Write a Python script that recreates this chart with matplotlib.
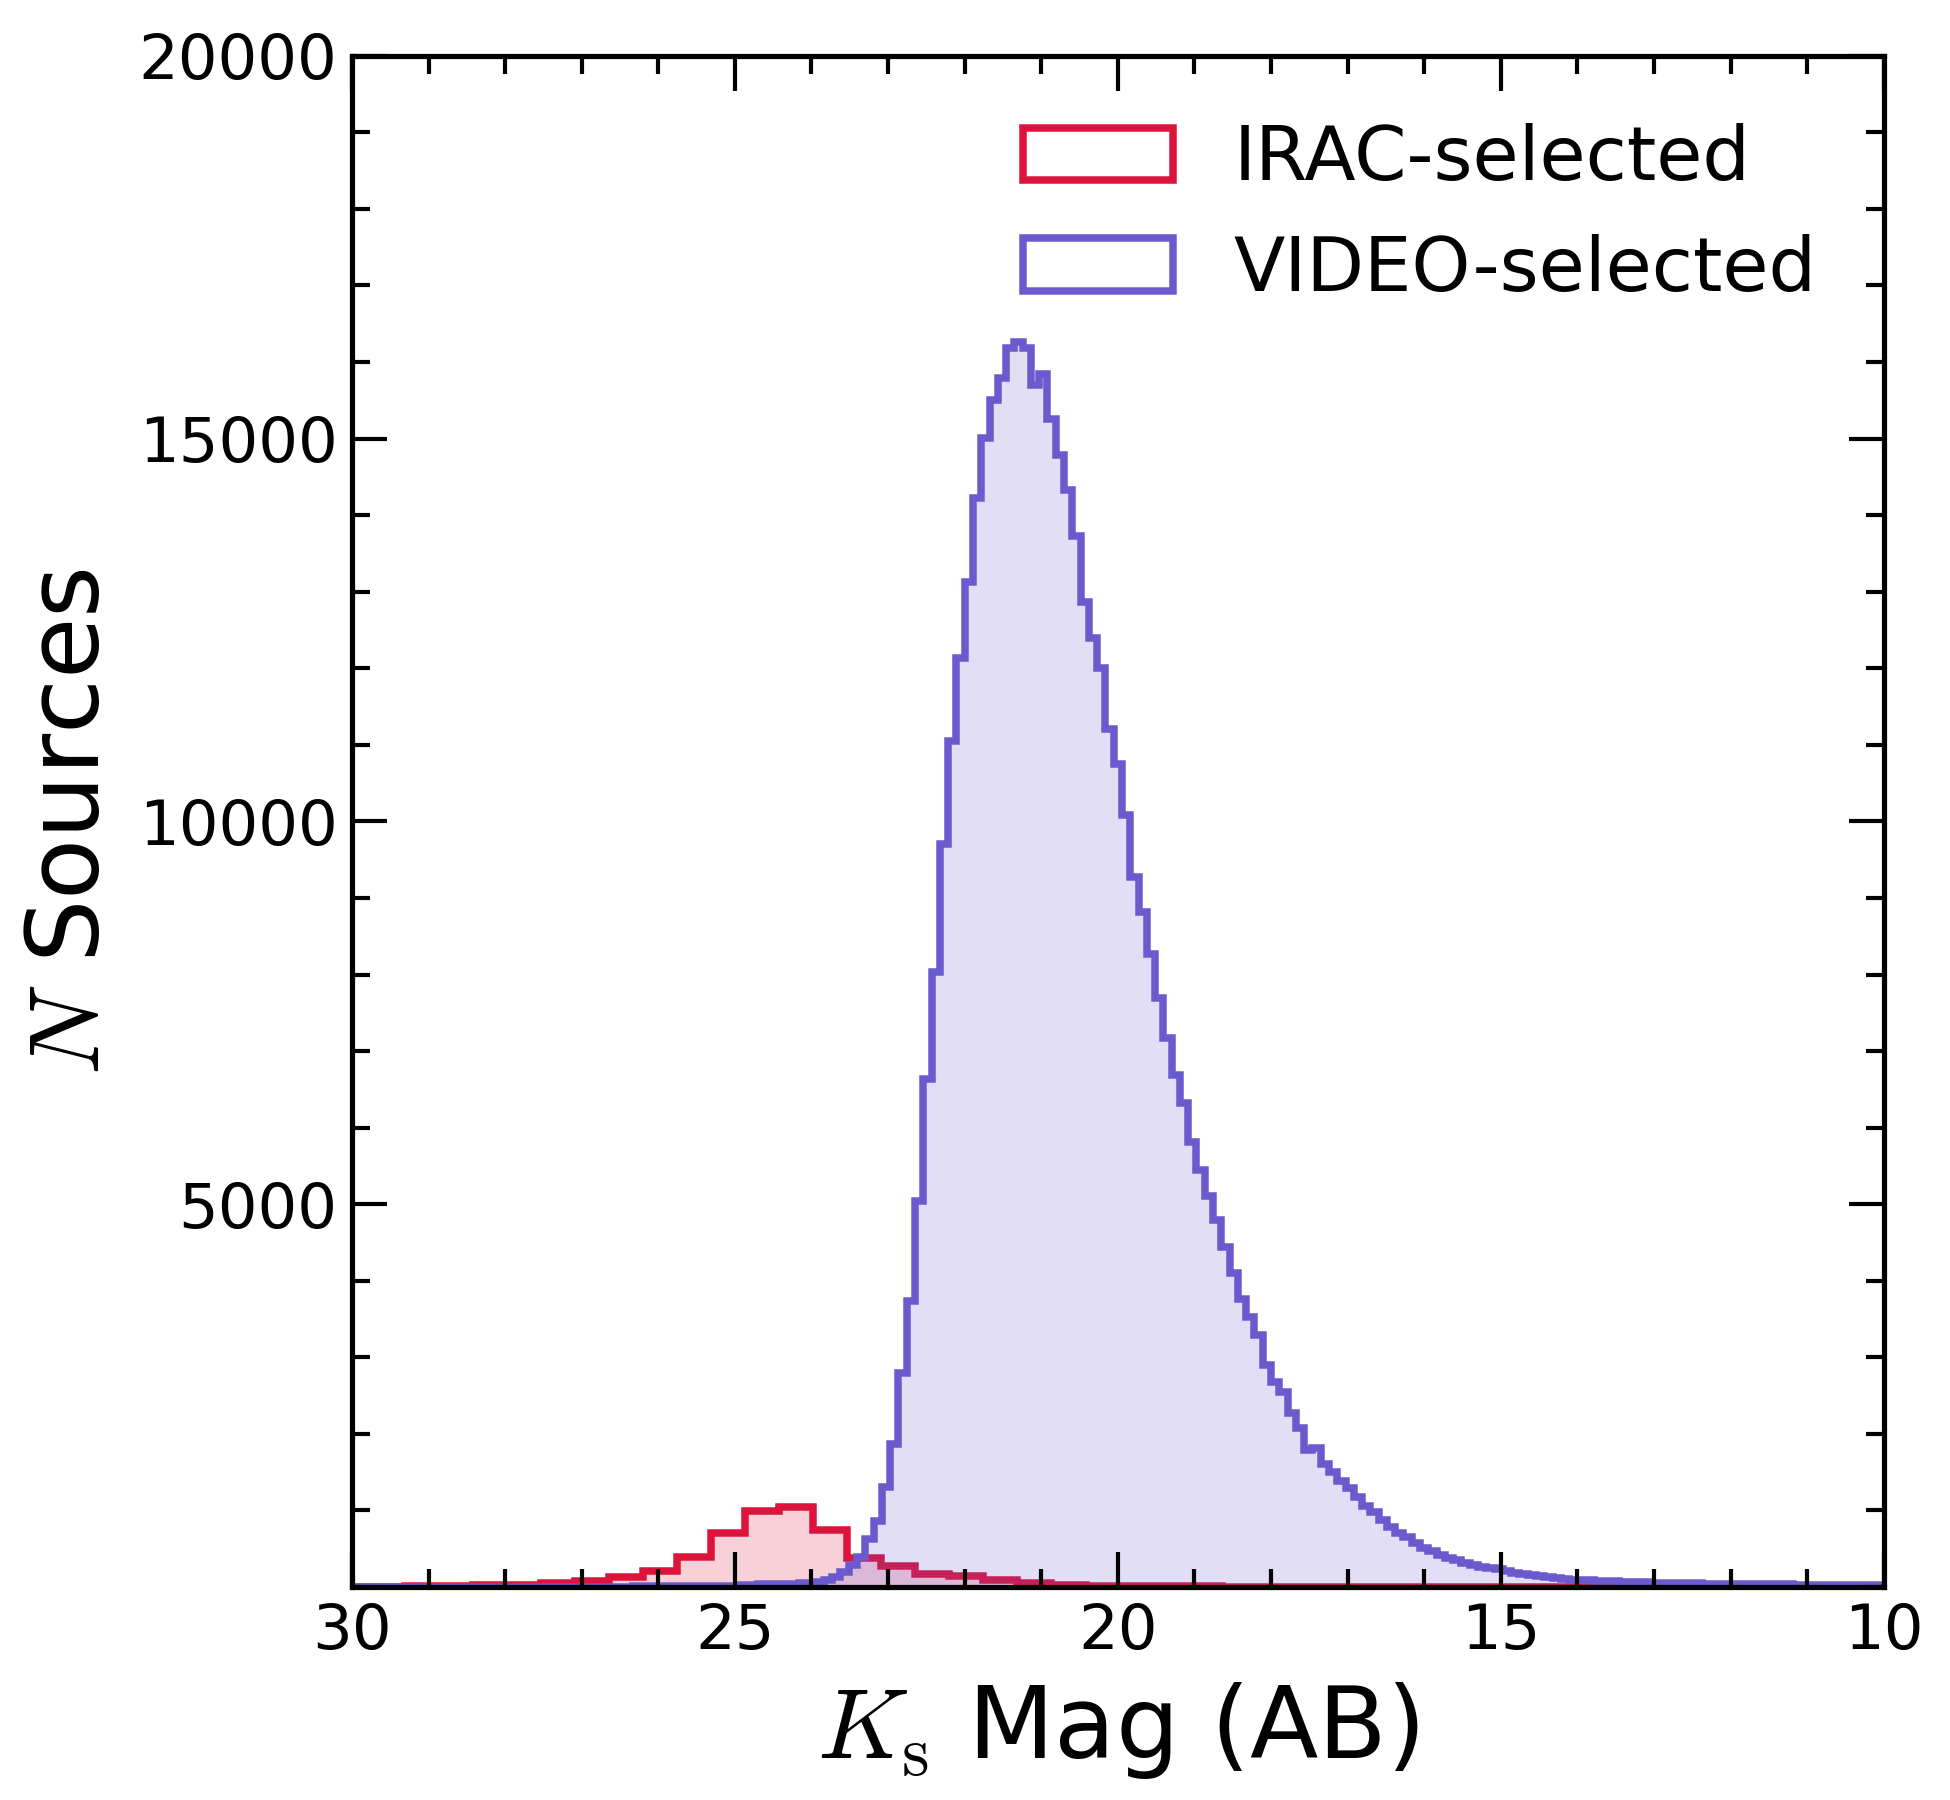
import numpy as np
import matplotlib
matplotlib.use("Agg")
import matplotlib.pyplot as plt
from matplotlib.ticker import MultipleLocator
from matplotlib.patches import Patch

# bin edges in Ks magnitude
video_edges = np.linspace(10, 30, 186)
irac_edges = np.linspace(10.2, 30.2, 46)

# VIDEO-selected counts per bin, bright (10) to faint (30)
video_counts = [
    22, 24, 23, 26, 27, 27, 29, 30, 31, 33,
    33, 35, 36, 37, 38, 40, 41, 41, 42, 44,
    44, 46, 48, 50, 52, 54, 56, 58, 61, 64,
    67, 70, 74, 78, 82, 86, 92, 98, 105, 115,
    125, 140, 155, 170, 190, 205, 230, 245, 265, 290,
    320, 355, 385, 420, 470, 510, 580, 650, 700, 780,
    880, 980, 1060, 1180, 1290, 1380, 1504, 1605, 1820, 1790,
    2071, 2276, 2551, 2681, 2900, 3292, 3522, 3758, 4107, 4447,
    4791, 5110, 5450, 5808, 6318, 6693, 7172, 7695, 8262, 8816,
    9274, 10085, 10750, 11210, 12000, 12400, 12860, 13730, 14330, 14780,
    15260, 15850, 15700, 16180, 16260, 16180, 15790, 15510, 15010, 14230,
    13130, 12130, 11050, 9705, 8031, 6636, 5036, 3737, 2800, 1875,
    1309, 861, 622, 396, 287, 200, 135, 91, 70, 57,
    55, 45, 42, 40, 36, 34, 33, 30, 20, 18,
    17, 16, 15, 14, 13, 12, 11, 10, 9, 9,
    8, 7, 7, 6, 5, 5, 4, 4, 3, 3,
    3, 2, 2, 2, 2, 1, 1, 1, 1, 1,
    1, 1, 1, 0, 0, 0, 0, 0, 0, 0,
    0, 0, 0, 0, 0,
]

# IRAC-selected counts per bin
irac_counts = [
    0, 0, 0, 0, 0, 0, 0, 0, 0, 0,
    0, 1, 1, 1, 2, 2, 3, 4, 6, 8,
    9, 15, 17, 30, 50, 95, 150, 175, 280, 374,
    744, 1048, 992, 709, 396, 209, 135, 83, 48, 32,
    25, 15, 10, 6, 3,
]

plt.rcParams["mathtext.fontset"] = "cm"
plt.rcParams["font.family"] = "DejaVu Sans"

LW = 1.8

fig = plt.figure(figsize=(6.5, 6), dpi=300)
ax = fig.add_axes([0.1805, 0.1183, 0.7855, 0.8507])

ax.stairs(irac_counts, irac_edges, fill=True, color="crimson", alpha=0.2, lw=0)
ax.stairs(irac_counts, irac_edges, color="crimson", lw=LW)
ax.stairs(video_counts, video_edges, fill=True, color="slateblue", alpha=0.2, lw=0)
ax.stairs(video_counts, video_edges, color="slateblue", lw=LW)

ax.set_xlim(30, 10)
ax.set_ylim(0, 20000)
ax.set_xticks([30, 25, 20, 15, 10])
ax.xaxis.set_minor_locator(MultipleLocator(1))
ax.set_yticks([5000, 10000, 15000, 20000])
ax.yaxis.set_minor_locator(MultipleLocator(1000))
ax.tick_params(which="both", direction="in", top=True, right=True,
               labelsize=15, width=1.0)
ax.tick_params(which="major", length=8.4)
ax.tick_params(which="minor", length=4.4)
for s in ax.spines.values():
    s.set_linewidth(1.25)

ax.set_xlabel(r"$K_{\rm s}$ Mag (AB)", fontsize=24, labelpad=4.5)
ax.set_ylabel(r"$N$ Sources", fontsize=24, labelpad=4.5)

handles = [Patch(fill=False, edgecolor="crimson", lw=LW, label="IRAC-selected"),
           Patch(fill=False, edgecolor="slateblue", lw=LW, label="VIDEO-selected")]
ax.legend(handles=handles, loc="upper right", frameon=False, fontsize=18)

fig.savefig("out.png", dpi=300)
